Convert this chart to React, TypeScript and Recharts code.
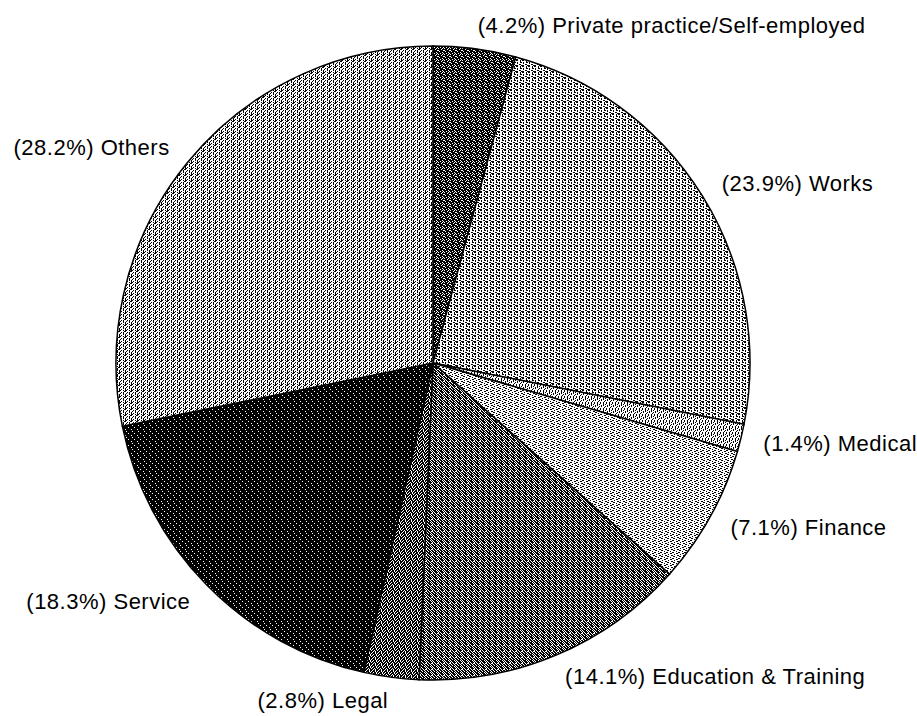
import { PieChart, Pie, Cell } from "recharts";

const sectors = ["Private practice/Self-employed", "Works", "Medical", "Finance", "Education & Training", "Legal", "Service", "Others"];
const shares = [4.2, 23.9, 1.4, 7.1, 14.1, 2.8, 18.3, 28.2];

const data = sectors.map((name, i) => ({ name, value: shares[i] }));

// stipple tiles, '#' is ink; scanned-print look
const TEXTURES: { id: string; bg: string; ink: string; rows: string[] }[] = [
  { id: "private", bg: "#000", ink: "#fff", rows: ["#...#.", "...#..", "#....#", ".#....", "....#.", "..#..#"] },
  { id: "works", bg: "#fff", ink: "#000", rows: ["##..#.", "....#.", ".#..##", ".#....", "...##.", "##...#"] },
  { id: "medical", bg: "#fff", ink: "#000", rows: ["#..#..", "#..#..", "...#.#", ".#.#..", ".#...#", "....#."] },
  { id: "finance", bg: "#fff", ink: "#000", rows: ["##....", "....##", "..#...", "#....#", ".##...", "....#."] },
  { id: "education", bg: "#000", ink: "#fff", rows: ["#...#.", ".#...#", "#.#...", "#..#.#", ".#..#.", "..#..#"] },
  { id: "legal", bg: "#000", ink: "#fff", rows: [".#..#.", "#...#.", "..#..#", ".#.#..", "#..#..", "...#.#"] },
  { id: "service", bg: "#000", ink: "#fff", rows: ["......", "..#...", "......", ".....#", "......", "#....."] },
  { id: "others", bg: "#fff", ink: "#000", rows: ["#..#.#", "....##", ".#.#..", "#..#..", "...#.#", ".#...#"] },
];

const RADIAN = Math.PI / 180;

const renderLabel = (props: any) => {
  const { cx, cy, midAngle, outerRadius, name, value } = props;
  const r = outerRadius + 23;
  const x = cx + r * Math.cos(-midAngle * RADIAN);
  const y = cy + r * Math.sin(-midAngle * RADIAN);
  return (
    <text
      x={x}
      y={y}
      textAnchor={x > cx + 1 ? "start" : "end"}
      dominantBaseline="central"
      fill="#000"
      fontSize={22}
      letterSpacing={0.5}
      fontFamily="'Liberation Sans', Arial, sans-serif"
    >
      {`(${value}%) ${name}`}
    </text>
  );
};

export default function App() {
  return (
    <div style={{ position: "absolute", left: 0, top: 0, background: "#fff" }}>
      <PieChart width={917} height={716} margin={{ top: 0, right: 0, bottom: 0, left: 0 }}>
        <defs>
          {TEXTURES.map((t) => (
            <pattern key={t.id} id={`tex-${t.id}`} width={6} height={6} patternUnits="userSpaceOnUse">
              <rect width={6} height={6} fill={t.bg} />
              {t.rows.map((row, y) =>
                row.split("").map((c, x) =>
                  c === "#" ? <rect key={`${x}-${y}`} x={x} y={y} width={1} height={1} fill={t.ink} /> : null
                )
              )}
            </pattern>
          ))}
        </defs>
        <Pie
          data={data}
          dataKey="value"
          nameKey="name"
          cx={433}
          cy={363}
          outerRadius={317}
          startAngle={90}
          endAngle={-270}
          stroke="#000"
          strokeWidth={1.5}
          label={renderLabel}
          labelLine={false}
          isAnimationActive={false}
        >
          {data.map((_, i) => (
            <Cell key={`cell-${i}`} fill={`url(#tex-${TEXTURES[i].id})`} />
          ))}
        </Pie>
      </PieChart>
    </div>
  );
}
